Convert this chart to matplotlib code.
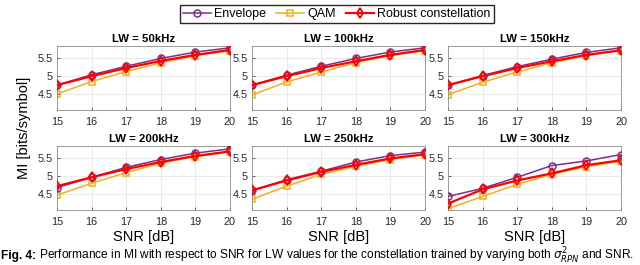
import matplotlib
matplotlib.use("Agg")
import matplotlib.pyplot as plt

plt.rcParams['font.family'] = ['Liberation Sans', 'DejaVu Sans']

snr = [15, 16, 17, 18, 19, 20]
titles = ["LW = 50kHz", "LW = 100kHz", "LW = 150kHz",
          "LW = 200kHz", "LW = 250kHz", "LW = 300kHz"]

# MI values per linewidth
envelope = [
    [4.75, 5.04, 5.28, 5.50, 5.68, 5.80],
    [4.75, 5.03, 5.28, 5.50, 5.68, 5.80],
    [4.75, 5.02, 5.27, 5.48, 5.67, 5.80],
    [4.68, 4.97, 5.25, 5.47, 5.65, 5.77],
    [4.60, 4.90, 5.14, 5.40, 5.58, 5.68],
    [4.43, 4.66, 4.97, 5.30, 5.43, 5.61],
]
qam = [
    [4.50, 4.85, 5.13, 5.38, 5.58, 5.72],
    [4.47, 4.84, 5.12, 5.38, 5.58, 5.72],
    [4.48, 4.83, 5.12, 5.38, 5.58, 5.72],
    [4.47, 4.80, 5.10, 5.37, 5.55, 5.68],
    [4.35, 4.72, 5.05, 5.28, 5.47, 5.60],
    [4.09, 4.43, 4.77, 5.05, 5.27, 5.42],
]
robust = [
    [4.75, 5.00, 5.23, 5.43, 5.60, 5.74],
    [4.75, 5.00, 5.23, 5.42, 5.60, 5.74],
    [4.75, 5.00, 5.23, 5.42, 5.60, 5.73],
    [4.72, 4.97, 5.20, 5.40, 5.57, 5.70],
    [4.60, 4.88, 5.12, 5.32, 5.50, 5.62],
    [4.23, 4.63, 4.88, 5.08, 5.31, 5.45],
]

fig = plt.figure(figsize=(6.4, 2.65), dpi=100)
W, H = 640.0, 265.0
lefts = [57, 252, 448]
rows_bottom = [110, 210]  # pixel y of axes bottom edges
aw, ah = 173, 64

for i in range(6):
    r, c = divmod(i, 3)
    ax = fig.add_axes([lefts[c] / W, 1 - rows_bottom[r] / H, aw / W, ah / H])
    ax.plot(snr, envelope[i], color='#7E2F8E', lw=1.1, marker='o', ms=5,
            mfc='none', mew=1.1, label='Envelope', zorder=3)
    ax.plot(snr, qam[i], color='#EDB120', lw=1.1, marker='s', ms=5,
            mfc='none', mew=1.1, label='QAM', zorder=2)
    ax.plot(snr, robust[i], color='#FF0000', lw=1.6, marker='d', ms=5.5,
            mfc='none', mew=1.3, label='Robust constellation', zorder=4)
    ax.set_xlim(15, 20)
    ax.set_ylim(4.05, 5.85)
    ax.set_xticks(snr)
    ax.set_yticks([4.5, 5, 5.5])
    ax.set_yticklabels(['4.5', '5', '5.5'])
    ax.grid(True, color='#e6e6e6', lw=0.6)
    ax.set_axisbelow(True)
    ax.tick_params(direction='in', length=2.5, labelsize=7.8, colors='#262626',
                   width=0.5)
    ax.tick_params(axis='x', pad=5)
    ax.tick_params(axis='y', pad=3)
    for s in ax.spines.values():
        s.set_color('#8c8c8c')
        s.set_linewidth(0.6)
    ax.set_title(titles[i], fontsize=8.2, fontweight='bold', pad=3)
    if r == 1:
        ax.set_xlabel('SNR [dB]', fontsize=10.5, labelpad=2)
    if i == 0:
        handles, labels = ax.get_legend_handles_labels()

fig.legend(handles, labels, loc='upper center', ncol=3,
           bbox_to_anchor=(337 / W, 1.005), fontsize=9, frameon=True,
           fancybox=False, edgecolor='#262626', handlelength=2.2,
           handletextpad=0.3, columnspacing=0.8, borderpad=0.25,
           framealpha=1)

fig.text(24 / W, 1 - 128 / H, 'MI [bits/symbol]', rotation=90, fontsize=10.5,
         ha='center', va='center')

# caption: bold "Fig. 4:" followed by regular text
t1 = fig.text(1 / W, 1 - 256 / H, 'Fig. 4:', fontsize=8.6, fontweight='bold',
              va='center', ha='left')
fig.add_artist(plt.Annotation(
    ' Performance in MI with respect to SNR for LW values for the '
    r'constellation trained by varying both $\sigma^2_{RPN}$ and SNR.',
    xy=(1, 0.5), xycoords=t1, va='center', ha='left', fontsize=8.6))

fig.savefig('out.png', dpi=100)
